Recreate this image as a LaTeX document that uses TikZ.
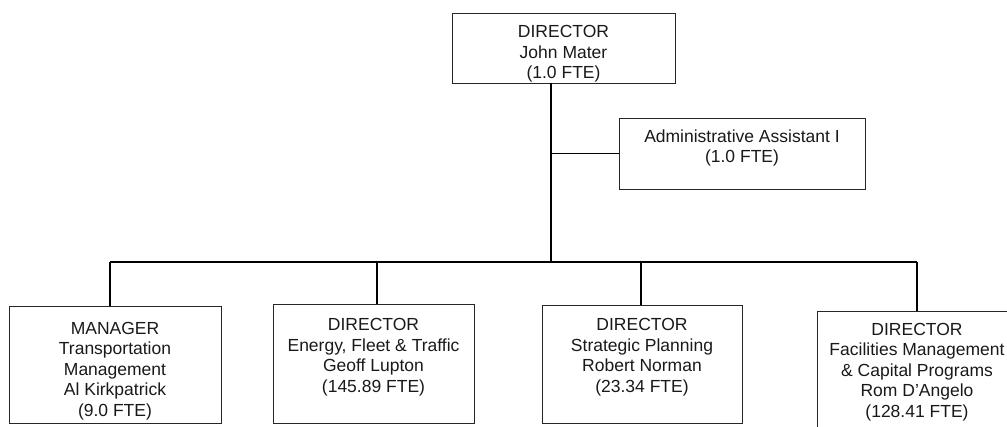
\documentclass[tikz,border=0pt]{standalone}
\usepackage{fontspec}
\setmainfont{Liberation Sans}
\begin{document}
\begin{tikzpicture}[x=1pt,y=-1pt,
  box/.style={draw=black!85, line width=0.9pt, inner sep=0pt, outer sep=0pt},
  txt/.style={anchor=north, align=center, inner sep=0pt, text=black!90,
    font=\fontsize{17.5}{20.6}\selectfont},
  conn/.style={draw=black, line width=1.5pt}]
\useasboundingbox (0,0) rectangle (1007,426);

% boxes
\node[box, minimum width=223pt, minimum height=70pt] (top) at (563.5,48) {};
\node[box, minimum width=246pt, minimum height=71pt] (admin) at (742,153.5) {};
\node[box, minimum width=212pt, minimum height=117pt] (b1) at (115,364.5) {};
\node[box, minimum width=201pt, minimum height=119pt] (b2) at (373.5,363.5) {};
\node[box, minimum width=200pt, minimum height=118pt] (b3) at (642,364) {};
\node[box, minimum width=200pt, minimum height=130pt] (b4) at (917,376) {};

% texts
\node[txt] (topt) at (563.5,25) {DIRECTOR\\John Mater\\(1.0 FTE)};
\node[txt] (admint) at (742,129.3) {Administrative Assistant I\\(1.0 FTE)};
\node[txt] (b1t) at (115,321.7) {MANAGER\\Transportation\\Management\\Al Kirkpatrick\\(9.0 FTE)};
\node[txt] (b2t) at (373.5,318) {DIRECTOR\\Energy, Fleet \& Traffic\\Geoff Lupton\\(145.89 FTE)};
\node[txt] (b3t) at (642,318.3) {DIRECTOR\\Strategic Planning\\Robert Norman\\(23.34 FTE)};
\node[txt] (b4t) at (917,322.7) {DIRECTOR\\Facilities Management\\\& Capital Programs\\Rom D’Angelo\\(128.41 FTE)};

% connector points
\coordinate (trunk) at (551,262);
\coordinate (d1) at (110,262);
\coordinate (d2) at (377,262);
\coordinate (d3) at (641,262);
\coordinate (d4) at (917,262);

% connectors
\draw[conn] (top.south -| trunk) -- (trunk);
\draw[conn] (trunk |- admin.west) -- (admin.west);
\draw[conn] (d1) -- (d4);
\draw[conn] (d1) -- (d1 |- b1.north);
\draw[conn] (d2) -- (d2 |- b2.north);
\draw[conn] (d3) -- (d3 |- b3.north);
\draw[conn] (d4) -- (d4 |- b4.north);
\end{tikzpicture}
\end{document}
